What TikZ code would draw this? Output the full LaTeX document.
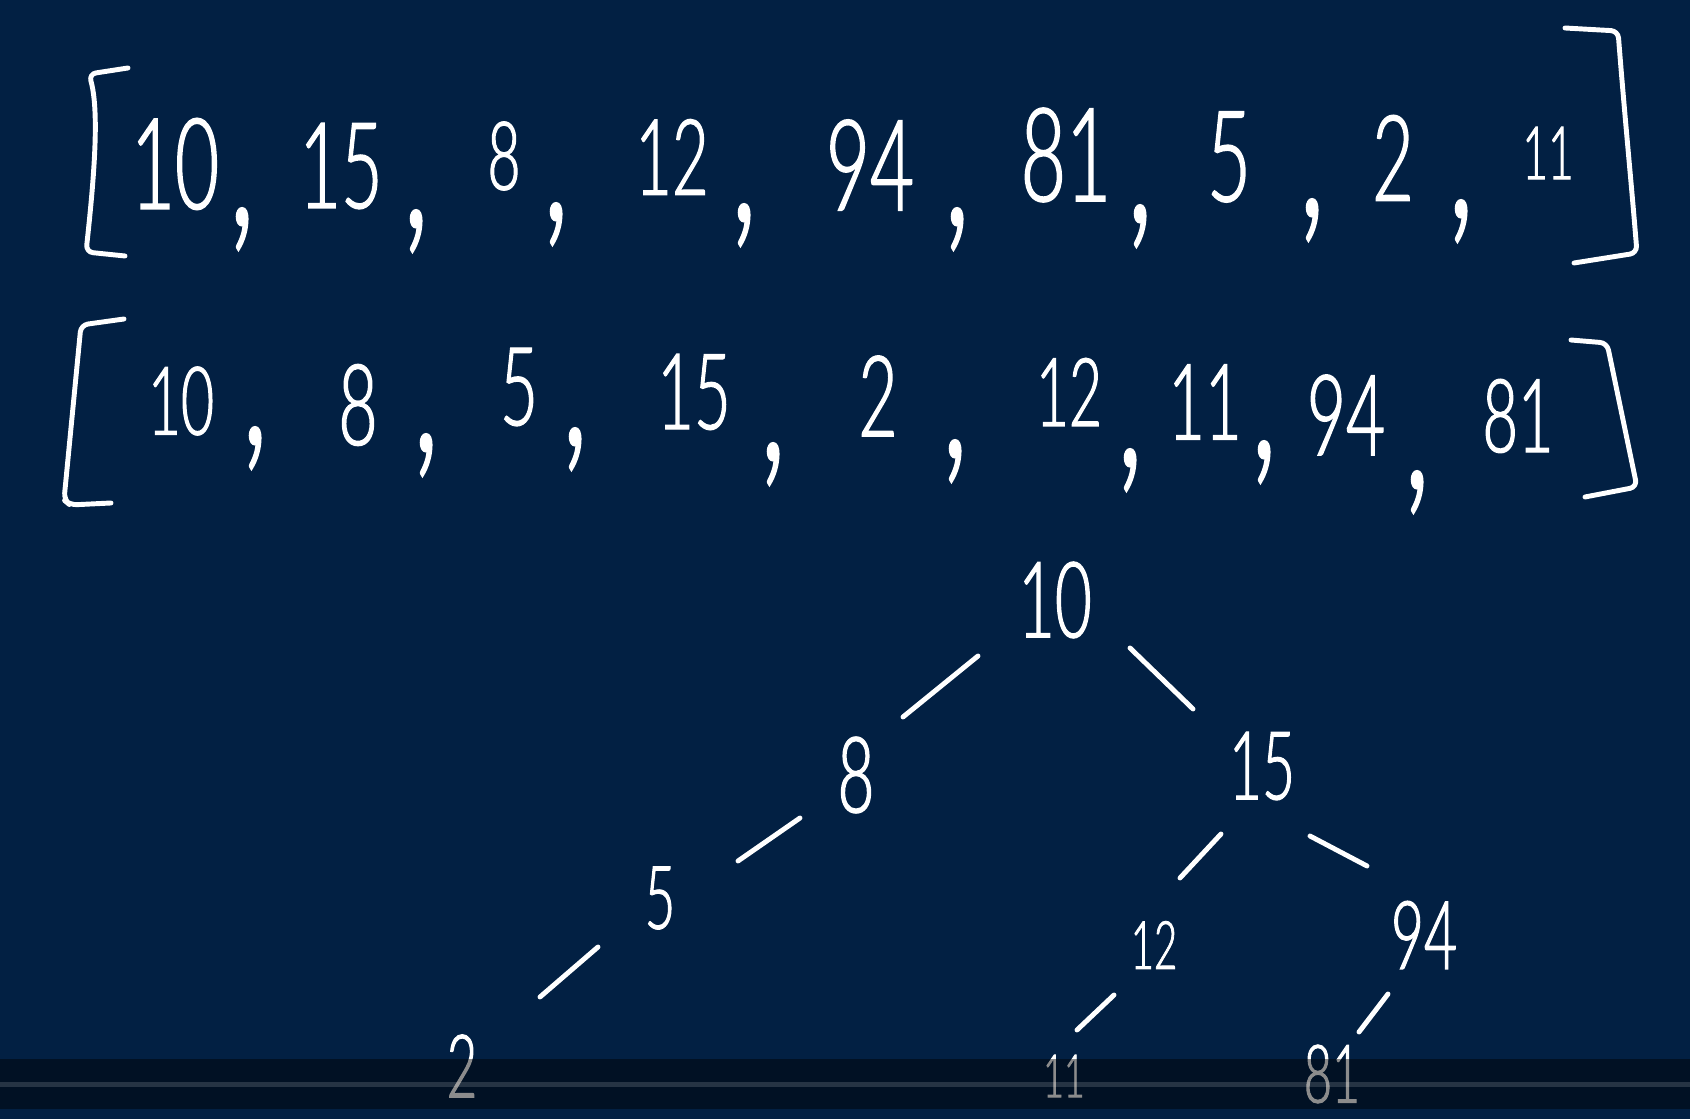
\documentclass[tikz,border=0pt]{standalone}
\usepackage{fontspec}
\newfontfamily\hand{Lato Light}[FakeStretch=0.6, FakeBold=1.2]
\usetikzlibrary{calc}
\definecolor{bg}{HTML}{022043}
\tikzset{
  num/.style={font=\hand\fontsize{#1}{#1}\selectfont, text=white, inner sep=0pt},
  cma/.style={font=\hand\fontsize{56}{56}\selectfont, text=white, inner sep=0pt},
  ink/.style={draw=white, line width=1.4pt, line cap=round, line join=round},
}
\begin{document}
\begin{tikzpicture}[x=0.01cm, y=-0.01cm]
\fill[bg] (0,0) rectangle (1690,1119);
\useasboundingbox (0,0) rectangle (1690,1119);

% ---- row 1 ----
\draw[ink, rounded corners=2pt] (128,68) -- (89,74) .. controls (99,110) and (95,170) .. (86,252) -- (125,256);
\draw[ink, rounded corners=2pt] (1565,28) -- (1618,31) .. controls (1625,120) and (1632,190) .. (1637,253) -- (1574,263);
\node[num=36] (a1) at (175,164) {10};
\node[num=34] (a2) at (341,166) {15};
\node[num=27] (a3) at (504,156) {8};
\node[num=30] (a4) at (672,157) {12};
\node[num=36] (a5) at (870,165) {94};
\node[num=37] (a6) at (1066,155) {81};
\node[num=36] (a7) at (1229,157) {5};
\node[num=34] (a8) at (1393,158) {2};
\node[num=21] (a9) at (1548,153) {11};
\node[cma] (ac1) at (242,229) {,};
\node[cma] (ac2) at (416,231) {,};
\node[cma] (ac3) at (556,224) {,};
\node[cma] (ac4) at (744,225) {,};
\node[cma] (ac5) at (957,229) {,};
\node[cma] (ac6) at (1140,226) {,};
\node[cma] (ac7) at (1312,220) {,};
\node[cma] (ac8) at (1461,221) {,};

% ---- row 2 ----
\draw[ink, rounded corners=2pt] (124,319) -- (81,325) -- (64,500) -- (70,505) -- (111,503);
\draw[ink, rounded corners=2pt] (1571,340) -- (1607,343) -- (1637,487) -- (1585,497);
\node[num=27] (b1) at (181,401) {10};
\node[num=32] (b2) at (358,405) {8};
\node[num=31] (b3) at (519,387) {5};
\node[num=30] (b4) at (694,392) {15};
\node[num=32] (b5) at (878,396) {2};
\node[num=27] (b6) at (1069,392) {12};
\node[num=30] (b7) at (1205,402) {11};
\node[num=32] (b8) at (1346,415) {94};
\node[num=29] (b9) at (1518,416) {81};
\node[cma] (bc1) at (255,448) {,};
\node[cma] (bc2) at (426,455) {,};
\node[cma] (bc3) at (575,449) {,};
\node[cma] (bc4) at (773,464) {,};
\node[cma] (bc5) at (955,461) {,};
\node[cma] (bc6) at (1130,470) {,};
\node[cma] (bc7) at (1264,462) {,};
\node[cma] (bc8) at (1417,492) {,};

% ---- tree ----
\node[num=30] (t10) at (1055,600) {10};
\node[num=30] (t8) at (856,775) {8};
\node[num=27] (t15) at (1262,766) {15};
\node[num=25] (t5) at (660,898) {5};
\node[num=19] (t12) at (1154,945) {12};
\node[num=27] (t94) at (1424,935) {94};
\node[num=25] (t2) at (462,1066) {2};
\node[num=17] (t11) at (1064,1076) {11};
\node[num=23] (t81) at (1332,1074) {81};

\draw[ink] ($(t10)+(-77,56)$) -- ($(t8)+(47,-58)$);
\draw[ink] ($(t10)+(75,48)$) -- ($(t15)+(-69,-57)$);
\draw[ink] ($(t8)+(-56,43)$) -- ($(t5)+(78,-37)$);
\draw[ink] ($(t5)+(-62,49)$) -- ($(t2)+(78,-69)$);
\draw[ink] ($(t15)+(-41,68)$) -- ($(t12)+(26,-67)$);
\draw[ink] ($(t15)+(48,70)$) -- ($(t94)+(-57,-69)$);
\draw[ink] ($(t12)+(-40,50)$) -- ($(t11)+(13,-46)$);
\draw[ink] ($(t94)+(-36,59)$) -- ($(t81)+(27,-42)$);

% ---- bottom bar ----
\fill[black, opacity=0.45] (0,1059) rectangle (1690,1109);
\fill[white, opacity=0.15] (0,1082) rectangle (1690,1087);
\end{tikzpicture}
\end{document}
